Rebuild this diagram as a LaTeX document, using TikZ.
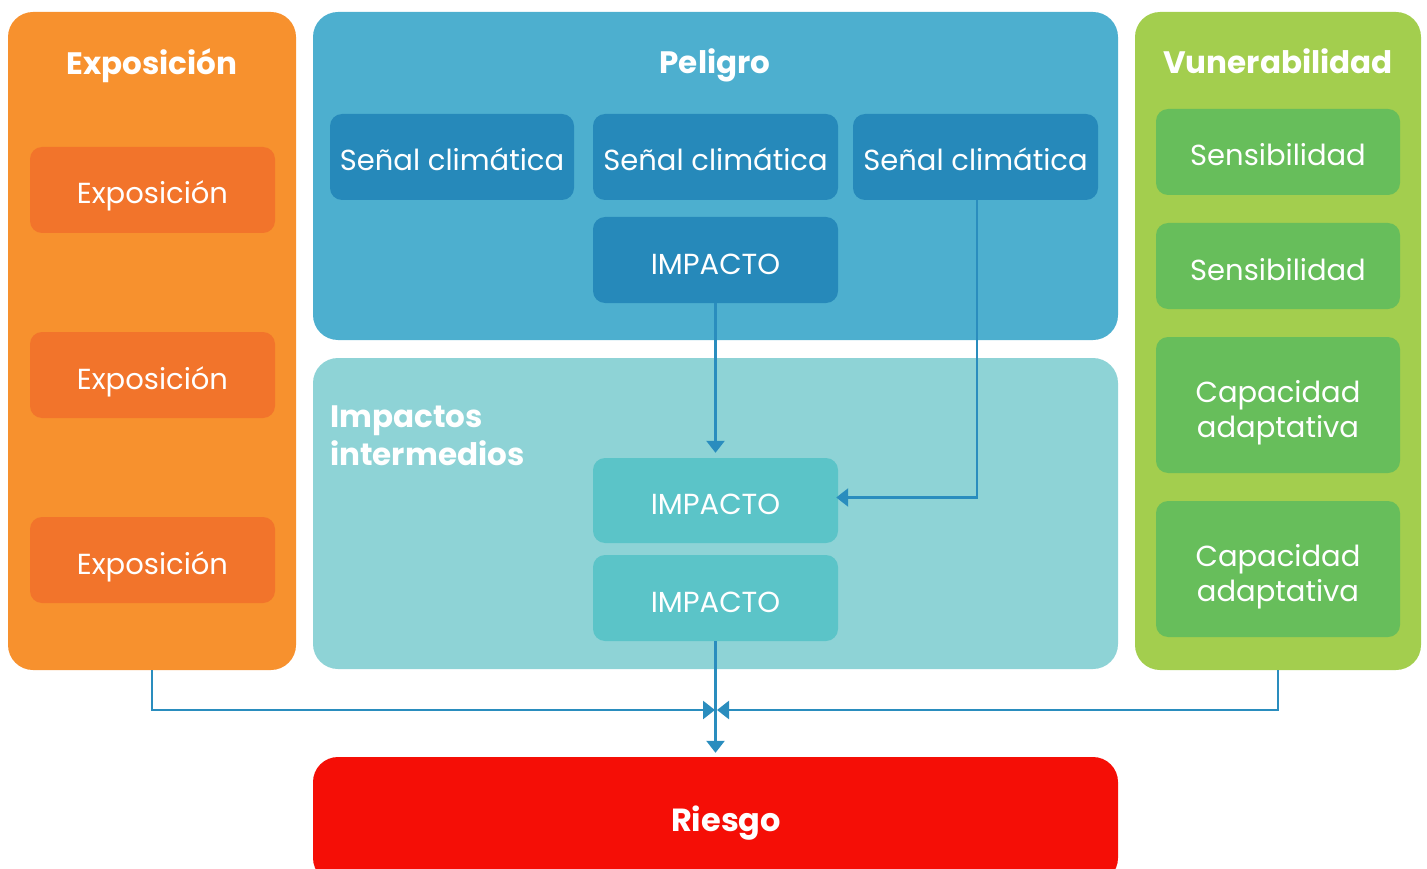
\documentclass[tikz,border=0pt]{standalone}
\usepackage{fontspec}
\setmainfont{Poppins}
\usetikzlibrary{arrows.meta,calc}
\definecolor{orpanel}{HTML}{F7912E}
\definecolor{orbox}{HTML}{F2742B}
\definecolor{blpanel}{HTML}{4DAFCF}
\definecolor{blbox}{HTML}{2689BA}
\definecolor{tlpanel}{HTML}{8ED3D6}
\definecolor{tlbox}{HTML}{5BC4C8}
\definecolor{grpanel}{HTML}{A3CE4E}
\definecolor{grbox}{HTML}{67BE5B}
\definecolor{riesgored}{HTML}{F50E06}
\definecolor{arrcol}{HTML}{2A8DBE}
\tikzset{
  panel/.style={rounded corners=25pt, inner sep=0pt, draw=none},
  box/.style={rounded corners=12pt, inner sep=0pt, draw=none, text=white,
    minimum width=245pt, minimum height=86pt,
    text height=34pt, text depth=6pt,
    font=\fontsize{29}{35}\selectfont},
  twoline/.style={minimum height=136pt, text height=25pt, text depth=31pt},
  ptitle/.style={text=white, inner sep=0pt, font=\fontsize{31}{38}\selectfont\bfseries},
  arr/.style={draw=arrcol, line width=2.5pt, -{Triangle[width=18pt,length=12pt]}},
}
\begin{document}
\begin{tikzpicture}[x=1pt,y=-1pt]
\clip (0,0) rectangle (1427,869);
\useasboundingbox (0,0) rectangle (1427,869);
% panels
\node[panel, fill=orpanel, minimum width=288pt, minimum height=658pt] (pexp) at (152,341) {};
\node[panel, fill=blpanel, minimum width=805pt, minimum height=328pt] (ppel) at (715.5,176) {};
\node[panel, fill=tlpanel, minimum width=805pt, minimum height=311pt] (pimp) at (715.5,513.5) {};
\node[panel, fill=grpanel, minimum width=286pt, minimum height=658pt] (pvul) at (1278,341) {};
% titles
\node[ptitle, anchor=base] (texp) at (152,75) {Exposición};
\node[ptitle, anchor=base] (tpel) at (715,74) {Peligro};
\node[ptitle, anchor=base] (tvul) at (1278,74) {Vunerabilidad};
\node[ptitle, anchor=base west] (timp) at (330,427) {\parbox[t]{300pt}{Impactos\\intermedios}};
% exposicion boxes
\node[box, fill=orbox] (e1) at (152.5,190) {Exposición};
\node[box, fill=orbox] (e2) at (152.5,375) {Exposición};
\node[box, fill=orbox] (e3) at (152.5,560) {Exposición};
% peligro boxes
\node[box, fill=blbox, minimum width=244pt] (s1) at (452,157) {Señal climática};
\node[box, fill=blbox] (s2) at (715.5,157) {Señal climática};
\node[box, fill=blbox] (s3) at (975.5,157) {Señal climática};
\node[box, fill=blbox] (imp0) at (715.5,260) {IMPACTO};
% impactos intermedios
\node[box, fill=tlbox, minimum height=85pt] (imp1) at (715.5,500.5) {IMPACTO};
\node[box, fill=tlbox] (imp2) at (715.5,598) {IMPACTO};
% vulnerabilidad boxes
\node[box, fill=grbox, minimum width=244pt] (v1) at (1278,152) {Sensibilidad};
\node[box, fill=grbox, minimum width=244pt] (v2) at (1278,266) {Sensibilidad};
\node[box, twoline, fill=grbox, minimum width=244pt] (v3) at (1278,405) {\parbox[t]{240pt}{\centering Capacidad\\adaptativa}};
\node[box, twoline, fill=grbox, minimum width=244pt] (v4) at (1278,569) {\parbox[t]{240pt}{\centering Capacidad\\adaptativa}};
% riesgo
\node[panel, fill=riesgored, minimum width=805pt, minimum height=126pt, text=white,
  text height=30pt, text depth=8pt,
  font=\fontsize{32}{38}\selectfont\bfseries] (riesgo) at (715.5,820) {\hspace{21pt}Riesgo};
% connectors
\coordinate (jl) at (715,710);
\coordinate (jr) at (717,710);
\draw[arr, shorten >=5pt] (imp0.south) -- (imp1.north);
\draw[arr, shorten >=-2pt] ([xshift=1.5pt]s3.south) |- ([yshift=3pt]imp1.east);
\draw[arr, shorten >=4pt] (imp2.south) -- (riesgo.north);
\draw[arr] (pexp.south) |- (jl);
\draw[arr] (pvul.south) |- (jr);
\end{tikzpicture}
\end{document}
